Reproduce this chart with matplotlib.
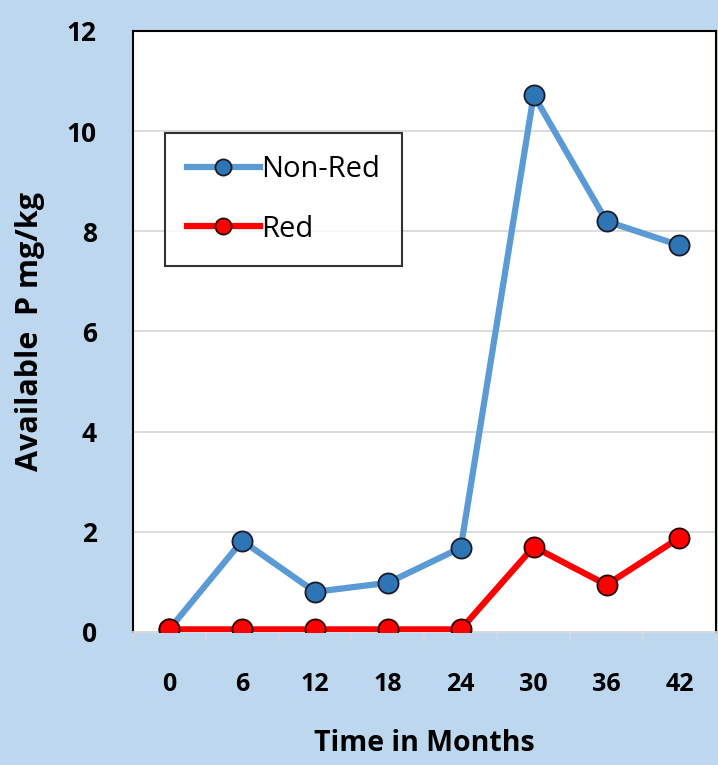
import matplotlib
matplotlib.use("Agg")
import matplotlib.pyplot as plt
import numpy as np

months = ["0", "6", "12", "18", "24", "30", "36", "42"]
non_red = [0.05, 1.82, 0.80, 0.98, 1.68, 10.72, 8.20, 7.72]
red = [0.05, 0.05, 0.05, 0.05, 0.05, 1.70, 0.94, 1.88]
y_ticks = [0, 2, 4, 6, 8, 10, 12]

bg = "#BDD7EE"
fig = plt.figure(figsize=(7.18, 7.65), dpi=100, facecolor=bg)
ax = fig.add_axes([0.185, 0.174, 0.812, 0.7855])
ax.set_facecolor("white")

x = np.arange(len(months))
ax.plot(x, non_red, color="#5B9BD5", lw=4.5, marker="o", ms=14.5,
        mfc="#2E75B6", mec="#1a1a2a", mew=1.3, label="Non-Red", zorder=3)
ax.plot(x, red, color="#FF0000", lw=4.5, marker="o", ms=14.5,
        mfc="#FF0000", mec="#2a0000", mew=1.3, label="Red", zorder=4)

ax.set_xlim(-0.5, len(months) - 0.5)
ax.set_ylim(0, 12)
ax.set_yticks(y_ticks)
ax.set_yticklabels([str(t) for t in y_ticks], fontsize=19, fontweight="bold", family="Open Sans")
ax.set_xticks(x)
ax.set_xticklabels(months, fontsize=18, fontweight="bold", family="Open Sans")
ax.set_xticks(np.arange(-0.5, len(months)), minor=True)
ax.tick_params(axis="x", which="major", length=0, pad=29)
ax.tick_params(axis="x", which="minor", length=7, color="#d9d9d9", width=1.2)
ax.tick_params(axis="y", length=0, pad=26)
ax.grid(axis="y", color="#d9d9d9", lw=1.3, zorder=0)
ax.set_axisbelow(True)

for s in ["top", "left", "right"]:
    ax.spines[s].set_color("black")
    ax.spines[s].set_linewidth(1.5)
ax.spines["bottom"].set_color("#d9d9d9")
ax.spines["bottom"].set_linewidth(1.3)

ax.set_xlabel("Time in Months", fontsize=20.5, fontweight="bold", family="Open Sans", labelpad=23)
ax.set_ylabel("Available  P mg/kg", fontsize=22, fontweight="bold", family="Open Sans")
ax.yaxis.set_label_coords(-0.15, 0.50)

leg = ax.legend(loc="upper left", bbox_to_anchor=(0.055, 0.830), borderaxespad=0,
                prop={"family": "Open Sans", "size": 21}, frameon=True, fancybox=False,
                edgecolor="black", handlelength=2.5, handletextpad=0.05, labelspacing=1.05,
                borderpad=0.75, markerscale=0.8)
leg.get_frame().set_linewidth(1.5)

fig.savefig("out.png", dpi=100, facecolor=bg)
